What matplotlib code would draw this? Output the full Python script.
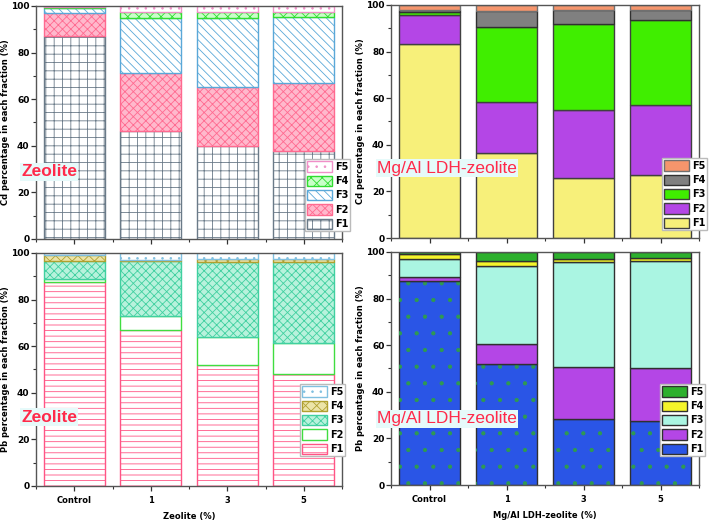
import numpy as np
import matplotlib.pyplot as plt
from matplotlib.patches import Patch
from matplotlib.ticker import MultipleLocator

# Fraction data (%)
groups = ['Control', '1', '3', '5']
fractions = ['F1', 'F2', 'F3', 'F4', 'F5']

cd_zeolite = {
    'F1': [87.0, 46.4, 40.1, 37.6],
    'F2': [10.0, 24.7, 25.3, 29.3],
    'F3': [2.3, 23.6, 29.3, 28.5],
    'F4': [0.2, 2.6, 2.9, 2.2],
    'F5': [0.5, 2.7, 2.4, 2.4],
}
cd_ldh = {
    'F1': [83.4, 36.6, 25.6, 26.9],
    'F2': [12.2, 21.7, 29.3, 30.1],
    'F3': [1.4, 32.1, 37.1, 36.7],
    'F4': [0.7, 7.2, 5.7, 4.0],
    'F5': [2.3, 2.4, 2.3, 2.3],
}
pb_zeolite = {
    'F1': [87.5, 67.0, 51.9, 47.9],
    'F2': [1.5, 5.9, 11.9, 13.3],
    'F3': [7.5, 23.7, 32.2, 34.8],
    'F4': [2.5, 0.5, 1.3, 1.4],
    'F5': [1.0, 2.9, 2.7, 2.6],
}
pb_ldh = {
    'F1': [87.6, 51.9, 28.3, 27.6],
    'F2': [1.5, 8.6, 22.4, 22.7],
    'F3': [7.9, 33.6, 44.8, 45.7],
    'F4': [2.1, 1.9, 1.5, 1.4],
    'F5': [0.9, 4.0, 3.0, 2.6],
}

plt.rcParams['hatch.linewidth'] = 0.6

# (facecolor, edgecolor, hatch) per fraction
style_cd_zeo = [('white', '#6a7a88', '++'), ('#ffb8cc', '#ff6a90', 'xxxx'),
                ('white', '#5aa8d8', '\\\\\\\\'), ('#c8ffc8', '#30dd30', 'xxx'),
                ('white', '#f090c8', '..')]
style_cd_ldh = [('#f7f07a', '#404040', None), ('#b446e6', '#404040', None),
                ('#40ee00', '#404040', None), ('#808080', '#303030', None),
                ('#f5956c', '#707070', None)]
style_pb_zeo = [('white', '#ff5585', '---'), ('white', '#40dd40', None),
                ('#b8f2dc', '#40d0a0', 'xxxx'), ('#ece4a8', '#b0a030', 'xxx'),
                ('white', '#80c0e0', '..')]
style_pb_ldh = [('#2a55e6', '#303030', None), ('#b446e6', '#303030', None),
                ('#aaf5e2', '#303030', None), ('#f5f52a', '#303030', None),
                ('#2db02d', '#303030', None)]

fig = plt.figure(figsize=(7.09, 5.2), dpi=100)
ax_tl = fig.add_axes([0.0508, 0.5404, 0.4316, 0.4481])
ax_tr = fig.add_axes([0.5515, 0.5423, 0.4344, 0.4481])
ax_bl = fig.add_axes([0.0508, 0.0654, 0.4316, 0.4481])
ax_br = fig.add_axes([0.5515, 0.0673, 0.4344, 0.4481])

x = np.arange(len(groups))


def stacked(ax, data, styles, dots=False):
    bottom = np.zeros(len(groups))
    handles = []
    for frac, (fc, ec, hatch) in zip(fractions, styles):
        vals = np.array(data[frac])
        ax.bar(x, vals, 0.8, bottom=bottom, color=fc, edgecolor=ec,
               hatch=hatch, linewidth=1.0)
        if dots and frac == 'F1':
            ax.bar(x, vals, 0.8, bottom=bottom, fill=False, edgecolor='#2f9a50',
                   hatch='.', linewidth=0)
        bottom += vals
        handles.append(Patch(facecolor=fc, edgecolor=ec, hatch=hatch, linewidth=1.0, label=frac))
    return handles[::-1]


def style_axes(ax, ylabel, xlabel=None):
    ax.set_xlim(-0.5, 3.5)
    ax.set_ylim(0, 100)
    ax.set_xticks(x)
    ax.xaxis.set_minor_locator(MultipleLocator(0.5))
    ax.yaxis.set_major_locator(MultipleLocator(20))
    ax.yaxis.set_minor_locator(MultipleLocator(10))
    ax.tick_params(which='major', length=3.5, width=0.9, colors='#333333',
                   labelcolor='black', pad=1.2)
    ax.tick_params(which='minor', length=2, width=0.8, colors='#333333')
    for lab in ax.get_yticklabels():
        lab.set_fontsize(6.5)
        lab.set_fontweight('bold')
    for s in ax.spines.values():
        s.set_color('#555555')
        s.set_linewidth(1.0)
    ax.set_ylabel(ylabel, fontsize=6, fontweight='bold', labelpad=1)
    if xlabel is None:
        ax.set_xticklabels([])
    else:
        ax.set_xticklabels(groups, fontsize=6, fontweight='bold')
        ax.tick_params(axis='x', which='major', pad=4)
        ax.set_xlabel(xlabel, fontsize=6, fontweight='bold', labelpad=5)


def add_legend(ax, handles, x0, y0):
    leg = ax.legend(handles=handles, loc='upper left', bbox_to_anchor=(x0 / 709, 1 - y0 / 520),
                    bbox_transform=fig.transFigure, borderaxespad=0, fancybox=False,
                    framealpha=1, edgecolor='#bbbbbb', prop={'size': 7, 'weight': 'bold'},
                    handlelength=2.5, handleheight=1.25, labelspacing=0.4,
                    handletextpad=0.3, borderpad=0.25)
    leg.set_zorder(5)


h = stacked(ax_tl, cd_zeolite, style_cd_zeo)
style_axes(ax_tl, 'Cd percentage in each fraction (%)')
add_legend(ax_tl, h, 305, 159)

h = stacked(ax_tr, cd_ldh, style_cd_ldh)
style_axes(ax_tr, 'Cd percentage in each fraction (%)')
add_legend(ax_tr, h, 662, 158)

h = stacked(ax_bl, pb_zeolite, style_pb_zeo)
style_axes(ax_bl, 'Pb percentage in each fraction (%)', 'Zeolite (%)')
add_legend(ax_bl, h, 300, 384)

h = stacked(ax_br, pb_ldh, style_pb_ldh, dots=True)
style_axes(ax_br, 'Pb percentage in each fraction (%)', 'Mg/Al LDH-zeolite (%)')
add_legend(ax_br, h, 660, 384)

box = dict(facecolor='#e6fafa', edgecolor='none', pad=1.0)
fig.text(21 / 709, 1 - 172 / 520, 'Zeolite', color='#ff2a4a', fontsize=12.5,
         fontweight='bold', family='Liberation Sans', ha='left', va='center', bbox=box, zorder=10)
fig.text(21 / 709, 1 - 417 / 520, 'Zeolite', color='#ff2a4a', fontsize=12.5,
         fontweight='bold', family='Liberation Sans', ha='left', va='center', bbox=box, zorder=10)
fig.text(377 / 709, 1 - 168 / 520, 'Mg/Al LDH-zeolite', color='#ff2a4a', fontsize=12.5,
         family='Liberation Sans', ha='left', va='center', bbox=box, zorder=10)
fig.text(377 / 709, 1 - 419 / 520, 'Mg/Al LDH-zeolite', color='#ff2a4a', fontsize=12.5,
         family='Liberation Sans', ha='left', va='center', bbox=box, zorder=10)

plt.savefig('out.png', dpi=100)
